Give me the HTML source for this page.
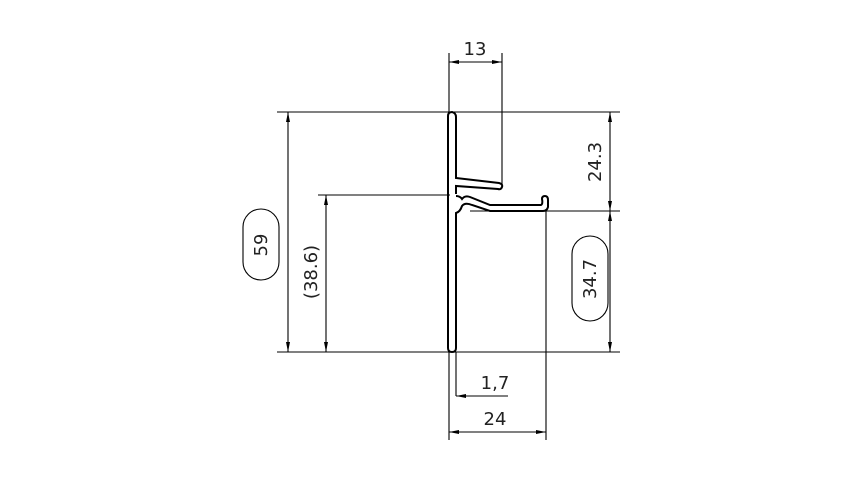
<!DOCTYPE html>
<html><head><style>body{margin:0;background:#fff}svg{display:block}text{font-family:"DejaVu Sans","Liberation Sans",sans-serif;font-size:18px;fill:#222}</style></head><body>
<svg width="853" height="480" viewBox="0 0 853 480" xmlns="http://www.w3.org/2000/svg">
<defs><marker id="a" viewBox="0 0 10 4" refX="10" refY="2" markerWidth="10" markerHeight="4" orient="auto-start-reverse" markerUnits="userSpaceOnUse"><path d="M0,0 L10,2 L0,4z" fill="#000"/></marker></defs>
<g stroke="#000" stroke-width="1.1" fill="none">
<line x1="277" y1="112" x2="620" y2="112"/>
<line x1="277" y1="352" x2="620" y2="352"/>
<line x1="318" y1="195" x2="450" y2="195"/>
<line x1="470" y1="211" x2="620" y2="211"/>
<line x1="449" y1="53" x2="449" y2="112"/>
<line x1="502" y1="53" x2="502" y2="184"/>
<line x1="449" y1="352" x2="449" y2="440"/>
<line x1="456" y1="352" x2="456" y2="396"/>
<line x1="546" y1="211" x2="546" y2="440"/>
<line x1="449" y1="62" x2="502" y2="62" marker-start="url(#a)" marker-end="url(#a)"/>
<line x1="449" y1="432" x2="546" y2="432" marker-start="url(#a)" marker-end="url(#a)"/>
<line x1="508" y1="396" x2="456" y2="396" marker-end="url(#a)"/>
<line x1="288" y1="112" x2="288" y2="352" marker-start="url(#a)" marker-end="url(#a)"/>
<line x1="326" y1="195" x2="326" y2="352" marker-start="url(#a)" marker-end="url(#a)"/>
<line x1="610" y1="112" x2="610" y2="211" marker-start="url(#a)" marker-end="url(#a)"/>
<line x1="610" y1="211" x2="610" y2="352" marker-start="url(#a)" marker-end="url(#a)"/>
<g stroke-width="2">
<path d="M448,348 L448,116 Q448,112 452,112 Q456,113 456,117 L456,178 L499,183 Q503,184 502,187 Q501,190 498,189 L456,186 L456,194"/>
<path d="M456,196 Q460,196 462,199 Q465,195 470,197 L490,205 L541,205 Q543,204 542,199 Q542,196 545,196 Q548,196 548,200 L548,207 Q547,211 543,211 L490,211 L472,205 Q465,202 462,206 Q460,212 456,213 L456,348 Q456,352 452,352 Q448,352 448,348"/>
</g>
<rect x="243" y="209" width="36" height="71" rx="18"/>
<rect x="572" y="236" width="36" height="85" rx="18"/>
</g>
<text x="475" y="55" text-anchor="middle">13</text>
<text x="495" y="389" text-anchor="middle">1,7</text>
<text x="495" y="425" text-anchor="middle">24</text>
<text transform="translate(267,245) rotate(-90)" text-anchor="middle">59</text>
<text transform="translate(317,272) rotate(-90)" text-anchor="middle">(38.6)</text>
<text transform="translate(601,162) rotate(-90)" text-anchor="middle">24.3</text>
<text transform="translate(596,279) rotate(-90)" text-anchor="middle">34.7</text>
</svg>
</body></html>
